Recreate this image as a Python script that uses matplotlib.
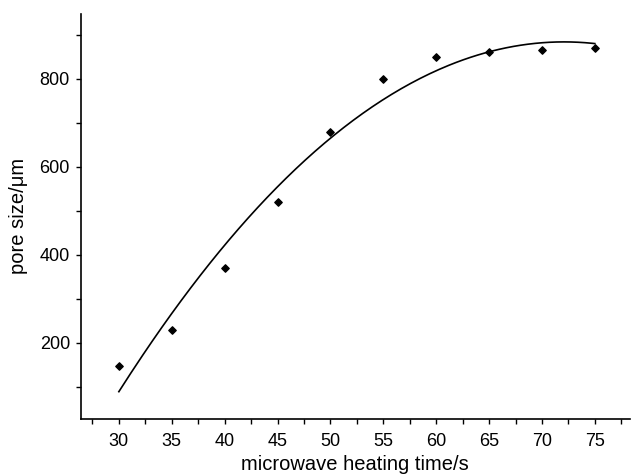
import numpy as np
import matplotlib
matplotlib.use("Agg")
import matplotlib.pyplot as plt
from matplotlib.ticker import MultipleLocator

# heating time (s) vs measured pore size (um)
heating_time = [30, 35, 40, 45, 50, 55, 60, 65, 70, 75]
pore_size = [148, 230, 370, 520, 680, 800, 850, 860, 865, 870]

plt.rcParams['font.family'] = ['Liberation Sans', 'DejaVu Sans']

# second order polynomial fit through the measurements
coef = np.polyfit(heating_time, pore_size, 2)
x_fit = np.linspace(min(heating_time), max(heating_time), 200)
y_fit = np.polyval(coef, x_fit)

fig = plt.figure(figsize=(6.31, 4.74), dpi=100)
ax = fig.add_axes([0.128, 0.116, 0.87, 0.855])

ax.plot(x_fit, y_fit, color='black', lw=1.2)
ax.scatter(heating_time, pore_size, marker='D', s=14, color='black', zorder=3)

ax.set_xlim(26.4, 78.3)
ax.set_ylim(27, 948)
ax.xaxis.set_major_locator(MultipleLocator(5))
ax.xaxis.set_minor_locator(MultipleLocator(2.5))
ax.yaxis.set_major_locator(MultipleLocator(200))
ax.yaxis.set_minor_locator(MultipleLocator(100))
ax.set_yticks([200, 400, 600, 800])

for side in ['top', 'right']:
    ax.spines[side].set_visible(False)
for side in ['left', 'bottom']:
    ax.spines[side].set_linewidth(1.2)

ax.tick_params(which='major', direction='out', length=3.8, width=1, labelsize=13)
ax.tick_params(axis='x', which='major', pad=6)
ax.tick_params(axis='y', which='major', pad=4)
ax.tick_params(which='minor', direction='out', length=3.8, width=1)

ax.set_xlabel('microwave heating time/s', fontsize=14.5, labelpad=4)
ax.set_ylabel('pore size/\u03bcm', fontsize=14.5, labelpad=8)

fig.savefig('out.png', dpi=100)
